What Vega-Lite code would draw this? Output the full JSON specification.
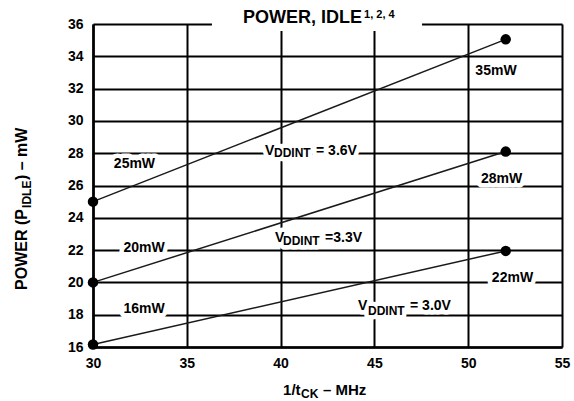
{
  "$schema": "https://vega.github.io/schema/vega-lite/v6.json",
  "width": 469,
  "height": 323,
  "autosize": {"type": "none"},
  "padding": {"left": 93, "top": 24, "right": 12, "bottom": 54},
  "background": "white",
  "config": {"view": {"stroke": null}},
  "datasets": {
    "series": [
      {"s": "3.6V", "x": 30, "y": 25},
      {"s": "3.6V", "x": 52, "y": 35.05},
      {"s": "3.3V", "x": 30, "y": 20},
      {"s": "3.3V", "x": 52, "y": 28.1},
      {"s": "3.0V", "x": 30, "y": 16.15},
      {"s": "3.0V", "x": 52, "y": 21.95}
    ],
    "titlebox": [
      {"x": 36.34, "x2": 47.54, "y": 36.87, "y2": 35.57}
    ],
    "ann": [
      {"role": "mw", "x": 32.21, "y": 27.08, "t": "25mW"},
      {"role": "mw", "x": 32.72, "y": 21.88, "t": "20mW"},
      {"role": "mw", "x": 32.72, "y": 18.1, "t": "16mW"},
      {"role": "mw", "x": 51.48, "y": 32.84, "t": "35mW"},
      {"role": "mw", "x": 51.78, "y": 26.15, "t": "28mW"},
      {"role": "mw", "x": 52.36, "y": 20.02, "t": "22mW"},
      {"role": "vm", "x": 39.17, "y": 27.89, "t": "V"},
      {"role": "vs", "x": 39.65, "y": 27.76, "t": "DDINT"},
      {"role": "vm", "x": 41.89, "y": 27.89, "t": "= 3.6V"},
      {"role": "vm", "x": 39.7, "y": 22.5, "t": "V"},
      {"role": "vs", "x": 40.13, "y": 22.32, "t": "DDINT"},
      {"role": "vm", "x": 42.37, "y": 22.5, "t": "=3.3V"},
      {"role": "vm", "x": 44.13, "y": 18.29, "t": "V"},
      {"role": "vs", "x": 44.66, "y": 17.98, "t": "DDINT"},
      {"role": "vm", "x": 46.9, "y": 18.29, "t": "= 3.0V"},
      {"role": "title", "x": 38.0, "y": 36.06, "t": "POWER, IDLE"},
      {"role": "sup", "x": 44.45, "y": 36.37, "t": "1,  2,  4"},
      {"role": "xt", "x": 40.13, "y": 13.03, "t": "1/t"},
      {"role": "xs", "x": 41.09, "y": 12.84, "t": "CK"},
      {"role": "xt", "x": 42.26, "y": 13.03, "t": "– MHz"},
      {"role": "yt", "x": 26.48, "y": 19.53, "t": "POWER (P"},
      {"role": "ys", "x": 26.7, "y": 24.61, "t": "IDLE"},
      {"role": "yt", "x": 26.48, "y": 26.34, "t": ") – mW"}
    ]
  },
  "encoding": {
    "x": {
      "field": "x",
      "type": "quantitative",
      "scale": {"domain": [30, 55], "nice": false, "zero": false},
      "axis": {
        "values": [30, 35, 40, 45, 50, 55],
        "title": null,
        "grid": true,
        "gridColor": "#000",
        "gridWidth": 2,
        "gridOpacity": 1,
        "domainColor": "#000",
        "domainWidth": 2.6,
        "ticks": false,
        "labelFont": "Liberation Sans",
        "labelFontWeight": "bold",
        "labelFontSize": 14,
        "labelColor": "#000",
        "labelPadding": 9,
        "labelFlush": false,
        "labelOverlap": false
      }
    },
    "y": {
      "field": "y",
      "type": "quantitative",
      "scale": {"domain": [16, 36], "nice": false, "zero": false},
      "axis": {
        "values": [16, 18, 20, 22, 24, 26, 28, 30, 32, 34, 36],
        "title": null,
        "grid": true,
        "gridColor": "#000",
        "gridWidth": 2,
        "gridOpacity": 1,
        "domainColor": "#000",
        "domainWidth": 2.6,
        "ticks": false,
        "labelFont": "Liberation Sans",
        "labelFontWeight": "bold",
        "labelFontSize": 14,
        "labelColor": "#000",
        "labelPadding": 10,
        "labelFlush": false,
        "labelOverlap": false
      }
    }
  },
  "layer": [
    {
      "data": {"name": "titlebox"},
      "mark": {"type": "rect", "color": "white", "opacity": 1},
      "encoding": {"x2": {"field": "x2"}, "y2": {"field": "y2"}}
    },
    {
      "data": {"name": "ann"},
      "transform": [{"filter": "datum.role === 'mw'"}],
      "mark": {"type": "text", "font": "Liberation Sans", "fontWeight": "bold", "fontSize": 14, "align": "center", "baseline": "alphabetic", "fill": "white", "stroke": "white", "strokeWidth": 9, "strokeJoin": "round"},
      "encoding": {"text": {"field": "t"}}
    },
    {
      "data": {"name": "ann"},
      "transform": [{"filter": "datum.role === 'vm'"}],
      "mark": {"type": "text", "font": "Liberation Sans", "fontWeight": "bold", "fontSize": 14, "align": "left", "baseline": "alphabetic", "fill": "white", "stroke": "white", "strokeWidth": 9, "strokeJoin": "round"},
      "encoding": {"text": {"field": "t"}}
    },
    {
      "data": {"name": "ann"},
      "transform": [{"filter": "datum.role === 'vs'"}],
      "mark": {"type": "text", "font": "Liberation Sans", "fontWeight": "bold", "fontSize": 12, "align": "left", "baseline": "alphabetic", "fill": "white", "stroke": "white", "strokeWidth": 9, "strokeJoin": "round"},
      "encoding": {"text": {"field": "t"}}
    },
    {
      "data": {"name": "series"},
      "mark": {"type": "line", "color": "#1a1a1a", "strokeWidth": 1.5},
      "encoding": {"detail": {"field": "s"}}
    },
    {
      "data": {"name": "series"},
      "mark": {"type": "point", "filled": true, "color": "#000", "opacity": 1, "size": 110},
      "encoding": {}
    },
    {
      "data": {"name": "ann"},
      "transform": [{"filter": "datum.role === 'mw'"}],
      "mark": {"type": "text", "font": "Liberation Sans", "fontWeight": "bold", "fontSize": 14, "align": "center", "baseline": "alphabetic", "color": "#000"},
      "encoding": {"text": {"field": "t"}}
    },
    {
      "data": {"name": "ann"},
      "transform": [{"filter": "datum.role === 'vm'"}],
      "mark": {"type": "text", "font": "Liberation Sans", "fontWeight": "bold", "fontSize": 14, "align": "left", "baseline": "alphabetic", "color": "#000"},
      "encoding": {"text": {"field": "t"}}
    },
    {
      "data": {"name": "ann"},
      "transform": [{"filter": "datum.role === 'vs'"}],
      "mark": {"type": "text", "font": "Liberation Sans", "fontWeight": "bold", "fontSize": 12, "align": "left", "baseline": "alphabetic", "color": "#000"},
      "encoding": {"text": {"field": "t"}}
    },
    {
      "data": {"name": "ann"},
      "transform": [{"filter": "datum.role === 'title'"}],
      "mark": {"type": "text", "font": "Liberation Sans", "fontWeight": "bold", "fontSize": 18, "align": "left", "baseline": "alphabetic", "color": "#000"},
      "encoding": {"text": {"field": "t"}}
    },
    {
      "data": {"name": "ann"},
      "transform": [{"filter": "datum.role === 'sup'"}],
      "mark": {"type": "text", "font": "Liberation Sans", "fontWeight": "bold", "fontSize": 11, "align": "left", "baseline": "alphabetic", "color": "#000"},
      "encoding": {"text": {"field": "t"}}
    },
    {
      "data": {"name": "ann"},
      "transform": [{"filter": "datum.role === 'xt'"}],
      "mark": {"type": "text", "font": "Liberation Sans", "fontWeight": "bold", "fontSize": 15, "align": "left", "baseline": "alphabetic", "color": "#000"},
      "encoding": {"text": {"field": "t"}}
    },
    {
      "data": {"name": "ann"},
      "transform": [{"filter": "datum.role === 'xs'"}],
      "mark": {"type": "text", "font": "Liberation Sans", "fontWeight": "bold", "fontSize": 12, "align": "left", "baseline": "alphabetic", "color": "#000"},
      "encoding": {"text": {"field": "t"}}
    },
    {
      "data": {"name": "ann"},
      "transform": [{"filter": "datum.role === 'yt'"}],
      "mark": {"type": "text", "font": "Liberation Sans", "fontWeight": "bold", "fontSize": 16, "align": "left", "baseline": "alphabetic", "angle": 270, "color": "#000"},
      "encoding": {"text": {"field": "t"}}
    },
    {
      "data": {"name": "ann"},
      "transform": [{"filter": "datum.role === 'ys'"}],
      "mark": {"type": "text", "font": "Liberation Sans", "fontWeight": "bold", "fontSize": 12, "align": "left", "baseline": "alphabetic", "angle": 270, "color": "#000"},
      "encoding": {"text": {"field": "t"}}
    }
  ]
}
